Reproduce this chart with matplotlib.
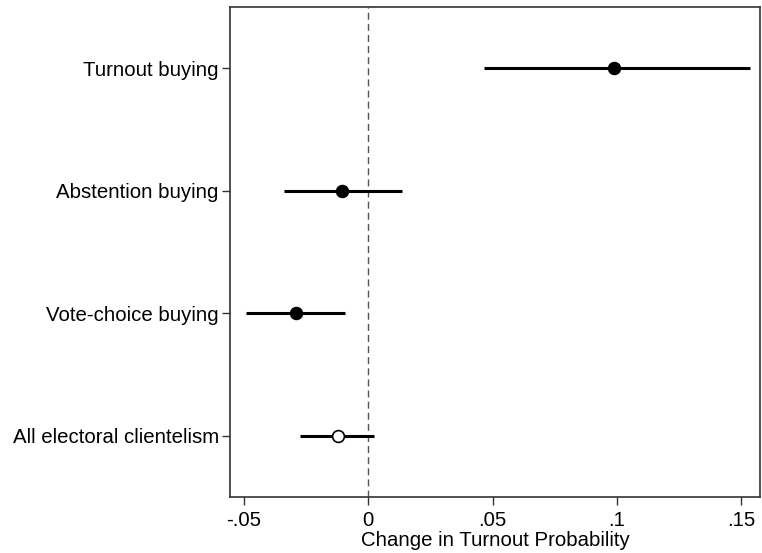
import matplotlib
matplotlib.use("Agg")
import matplotlib.pyplot as plt

categories = ["Turnout buying", "Abstention buying", "Vote-choice buying", "All electoral clientelism"]
estimates = [0.099, -0.0105, -0.029, -0.0122]
ci_low = [0.0465, -0.0337, -0.0490, -0.0272]
ci_high = [0.1535, 0.0137, -0.0092, 0.0024]
filled = [True, True, True, False]
xticks = [-0.05, 0, 0.05, 0.1, 0.15]
xticklabels = ["-.05", "0", ".05", ".1", ".15"]

plt.rcParams['font.family'] = ['Liberation Sans', 'DejaVu Sans']

fig = plt.figure(figsize=(7.62, 5.53), dpi=100)
ax = fig.add_axes([0.3018, 0.1013, 0.6956, 0.8857])

ypos = [len(categories) - i for i in range(len(categories))]
ax.axvline(0, color="#555555", linestyle=(0, (5, 3)), linewidth=1.0, zorder=1)
for y, est, lo, hi, f in zip(ypos, estimates, ci_low, ci_high, filled):
    ax.plot([lo, hi], [y, y], color="black", linewidth=2.2, solid_capstyle="butt", zorder=2)
    ax.plot([est], [y], marker="o", markersize=8.5,
            markerfacecolor="black" if f else "white",
            markeredgecolor="black", markeredgewidth=1.2, zorder=3)

ax.set_xlim(-0.0555, 0.1575)
ax.set_ylim(0.5, 4.5)
ax.set_yticks(ypos)
ax.set_yticklabels(categories, fontsize=14.7)
ax.set_xticks(xticks)
ax.set_xticklabels(xticklabels, fontsize=14.7)
ax.set_xlabel("Change in Turnout Probability", fontsize=14.7, labelpad=1)
ax.tick_params(axis="both", length=6, width=1.0, color="#333333")
ax.tick_params(axis="x", pad=4)
ax.tick_params(axis="y", pad=2)
for s in ax.spines.values():
    s.set_color("#333333")
    s.set_linewidth(1.2)

fig.savefig("out.png", dpi=100)
